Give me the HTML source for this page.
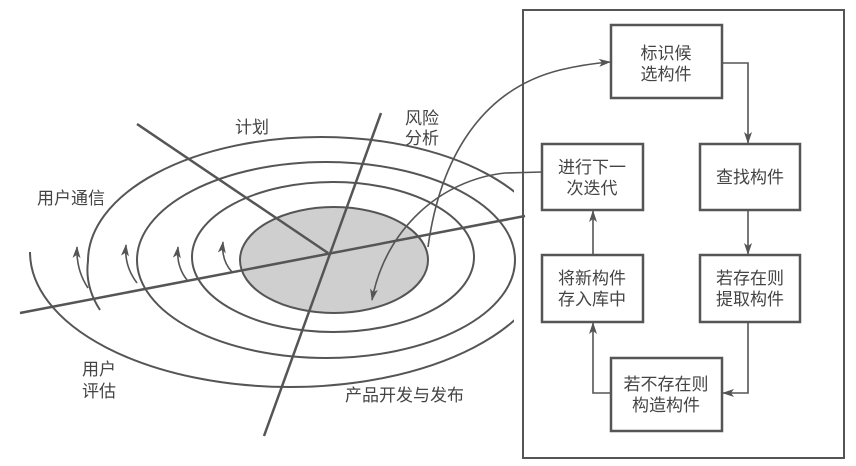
<!DOCTYPE html>
<html><head><meta charset="utf-8"><style>
html,body{margin:0;padding:0;background:#fff;}
svg{display:block}
text{font-family:"Liberation Sans","Noto Sans CJK SC",sans-serif;font-size:17px;fill:#444;}
</style></head><body>
<svg width="856" height="466" viewBox="0 0 856 466" xmlns="http://www.w3.org/2000/svg">
<defs>
<marker id="a" markerWidth="12" markerHeight="8" refX="11" refY="4" orient="auto" markerUnits="userSpaceOnUse">
<path d="M0,0 L12,4 L0,8 L3,4 Z" fill="#555"/></marker>
<clipPath id="c"><rect x="0" y="0" width="514" height="466"/></clipPath>
</defs>
<g stroke="#555" stroke-width="2" fill="none">
<ellipse cx="334" cy="260" rx="94" ry="53" fill="#cfcfcf"/>
<ellipse cx="333" cy="257" rx="141" ry="75"/>
<ellipse cx="326" cy="260" rx="189" ry="98"/>
<g clip-path="url(#c)">
<path d="M100,310 A233,124 0 0 1 88,261 A233,124 0 0 1 554,261"/>
<path d="M30,252 A260,135 0 0 0 550,252"/>
</g>
<line x1="20" y1="313" x2="525" y2="216" stroke-width="2.5"/>
<line x1="137" y1="124" x2="328" y2="253" stroke-width="2.5"/>
<line x1="381" y1="113" x2="264" y2="436" stroke-width="2.5"/>
<path d="M88,288 Q76,270 77,247" marker-end="url(#a)" stroke-width="1.6"/>
<path d="M137,283 Q124,266 126,245" marker-end="url(#a)" stroke-width="1.6"/>
<path d="M187,280 Q176,266 178,247" marker-end="url(#a)" stroke-width="1.6"/>
<path d="M232,272 Q221,260 223,242" marker-end="url(#a)" stroke-width="1.6"/>
<path d="M428,247 C440,160 480,90 560,70 Q585,64 610,62" marker-end="url(#a)" stroke-width="1.6"/>
<path d="M542,172 L505,173 C440,180 385,230 372,300" marker-end="url(#a)" stroke-width="1.6"/>
<rect x="523" y="10" width="321" height="448" stroke-width="2"/>
<g stroke-width="2.5">
<rect x="611" y="25" width="111" height="73"/>
<rect x="542" y="144" width="101" height="66"/>
<rect x="700" y="144" width="100" height="66"/>
<rect x="542" y="255" width="101" height="67"/>
<rect x="700" y="255" width="100" height="67"/>
<rect x="611" y="358" width="111" height="73"/>
</g>
<g stroke-width="1.6">
<path d="M722,63 L748,63 L748,143" marker-end="url(#a)"/>
<path d="M748,210 L748,254" marker-end="url(#a)"/>
<path d="M748,322 L748,393 L723,393" marker-end="url(#a)"/>
<path d="M611,393 L593,393 L593,323" marker-end="url(#a)"/>
<path d="M593,255 L593,211" marker-end="url(#a)"/>
</g>
</g>
<text x="235" y="133">计划</text>
<text x="405" y="124">风险</text>
<text x="405" y="144">分析</text>
<text x="37" y="204">用户通信</text>
<text x="82" y="375">用户</text>
<text x="82" y="397">评估</text>
<text x="345" y="401">产品开发与发布</text>
<g text-anchor="middle">
<text x="666" y="59">标识候</text><text x="666" y="80">选构件</text>
<text x="592" y="173">进行下一</text><text x="592" y="194">次迭代</text>
<text x="750" y="183">查找构件</text>
<text x="592" y="284">将新构件</text><text x="592" y="305">存入库中</text>
<text x="750" y="284">若存在则</text><text x="750" y="305">提取构件</text>
<text x="666" y="390">若不存在则</text><text x="666" y="411">构造构件</text>
</g>
</svg>
</body></html>
